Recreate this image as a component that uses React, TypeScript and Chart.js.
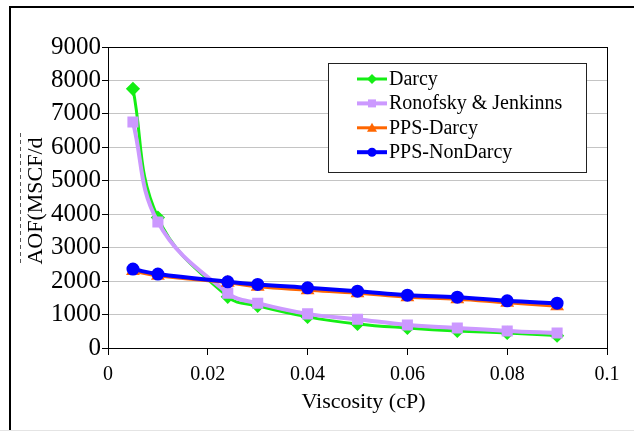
import React, { useEffect, useRef } from "react";
import { Chart, registerables } from "chart.js";

Chart.register(...registerables);

const viscosity = [0.005, 0.01, 0.024, 0.03, 0.04, 0.05, 0.06, 0.07, 0.08, 0.09];
const darcy = [7750, 3900, 1530, 1260, 930, 720, 600, 510, 450, 370];
const ronofsky = [6760, 3770, 1640, 1340, 1020, 860, 690, 600, 510, 450];
const ppsDarcy = [2300, 2160, 1950, 1830, 1730, 1640, 1520, 1460, 1350, 1250];
const ppsNonDarcy = [2360, 2210, 1980, 1900, 1800, 1700, 1580, 1520, 1410, 1340];
const seriesNames = ["Darcy", "Ronofsky & Jenkinns", "PPS-Darcy", "PPS-NonDarcy"];
const xTitle = "Viscosity (cP)";
const yTitle = "AOF(MSCF/d";

const FONT = "'Liberation Serif', 'DejaVu Serif', serif";
Chart.defaults.font.family = FONT;

function drawMarker(ctx: CanvasRenderingContext2D, style: string, x: number, y: number, r: number, color: string) {
  ctx.save();
  ctx.fillStyle = color;
  ctx.beginPath();
  if (style === "rectRot") {
    ctx.moveTo(x, y - r);
    ctx.lineTo(x + r, y);
    ctx.lineTo(x, y + r);
    ctx.lineTo(x - r, y);
    ctx.closePath();
  } else if (style === "rect") {
    ctx.rect(x - r * 0.8, y - r * 0.8, 1.6 * r, 1.6 * r);
  } else if (style === "triangle") {
    ctx.moveTo(x, y - r);
    ctx.lineTo(x + r, y + r * 0.8);
    ctx.lineTo(x - r, y + r * 0.8);
    ctx.closePath();
  } else {
    ctx.arc(x, y, r, 0, Math.PI * 2);
  }
  ctx.fill();
  ctx.restore();
}

const decorPlugin = {
  id: "decor",
  beforeDraw(chart: any) {
    const ctx = chart.ctx as CanvasRenderingContext2D;
    ctx.save();
    ctx.fillStyle = "#fff";
    ctx.fillRect(0, 0, chart.width, chart.height);
    ctx.strokeStyle = "#000";
    ctx.lineWidth = 2;
    ctx.beginPath();
    ctx.moveTo(10, 431);
    ctx.lineTo(10, 7);
    ctx.lineTo(634, 7);
    ctx.stroke();
    ctx.strokeStyle = "#e4e4e4";
    ctx.lineWidth = 1;
    ctx.beginPath();
    ctx.moveTo(0, 430.5);
    ctx.lineTo(634, 430.5);
    ctx.stroke();
    ctx.strokeStyle = "#555";
    ctx.setLineDash([4, 3]);
    ctx.beginPath();
    ctx.moveTo(20.5, 133);
    ctx.lineTo(20.5, 265);
    ctx.stroke();
    ctx.setLineDash([]);
    ctx.restore();
  },
  afterDraw(chart: any) {
    const ctx = chart.ctx as CanvasRenderingContext2D;
    const a = chart.chartArea;
    ctx.save();
    ctx.strokeStyle = "#000";
    ctx.lineWidth = 1;
    ctx.strokeRect(Math.round(a.left) + 0.5, Math.round(a.top) + 0.5, Math.round(a.right - a.left), Math.round(a.bottom - a.top));
    ctx.fillStyle = "#000";
    ctx.font = `22px ${FONT}`;
    ctx.textAlign = "center";
    ctx.textBaseline = "middle";
    ctx.fillText(xTitle, (a.left + a.right) / 2 + 6, 402);
    ctx.save();
    ctx.translate(36, 201);
    ctx.rotate(-Math.PI / 2);
    ctx.fillText(yTitle, 0, 0);
    ctx.restore();
    const bx = 328.5, by = 63.5, bw = 258, bh = 109;
    ctx.fillStyle = "#fff";
    ctx.fillRect(bx, by, bw, bh);
    ctx.strokeStyle = "#222";
    ctx.lineWidth = 1;
    ctx.strokeRect(bx, by, bw, bh);
    ctx.font = `20px ${FONT}`;
    ctx.textAlign = "left";
    ctx.textBaseline = "alphabetic";
    chart.data.datasets.forEach((ds: any, i: number) => {
      const base = 85 + i * 24.4;
      const ly = base - 6;
      ctx.strokeStyle = ds.borderColor;
      ctx.lineWidth = ds.borderWidth;
      ctx.beginPath();
      ctx.moveTo(357, ly);
      ctx.lineTo(387, ly);
      ctx.stroke();
      drawMarker(ctx, ds.pointStyle, 372, ly, ds.pointRadius, ds.pointBackgroundColor);
      ctx.fillStyle = "#000";
      ctx.fillText(ds.label, 389, base);
    });
    ctx.restore();
  },
};

export default function App() {
  const ref = useRef<HTMLCanvasElement | null>(null);
  useEffect(() => {
    if (!ref.current) return;
    const mk = (vals: number[]) => viscosity.map((x, i) => ({ x, y: vals[i] }));
    const mkDs = (i: number, vals: number[], color: string, width: number, style: string, r: number, order: number) => ({
      label: seriesNames[i],
      data: mk(vals),
      borderColor: color,
      backgroundColor: color,
      pointBackgroundColor: color,
      pointBorderColor: color,
      borderWidth: width,
      pointStyle: style,
      pointRadius: r,
      tension: 0.4,
      order,
    });
    const chart = new Chart(ref.current, {
      type: "line",
      data: {
        datasets: [
          mkDs(0, darcy, "#14ee14", 3, "rectRot", 5, 4),
          mkDs(1, ronofsky, "#cc99ff", 4, "rect", 5, 3),
          mkDs(2, ppsDarcy, "#ff6600", 3, "triangle", 5, 2),
          mkDs(3, ppsNonDarcy, "#0000ff", 4, "circle", 4.5, 1),
        ] as any,
      },
      options: {
        animation: false,
        responsive: false,
        maintainAspectRatio: false,
        layout: { padding: { top: 47, right: 27, left: 0, bottom: 0 } },
        plugins: { legend: { display: false }, tooltip: { enabled: false } },
        scales: {
          x: {
            type: "linear",
            min: 0,
            max: 0.1,
            afterFit: (s: any) => { s.height = 85; },
            ticks: {
              stepSize: 0.02,
              color: "#000",
              font: { family: FONT, size: 20 },
              padding: 8,
              maxRotation: 0,
              callback: (v: any) => String(Number(Number(v).toFixed(3))),
            },
            grid: { color: "rgba(0,0,0,0)", tickColor: "#000", tickLength: 7, drawOnChartArea: false },
            border: { color: "#000", width: 1 },
          },
          y: {
            min: 0,
            max: 9000,
            afterFit: (s: any) => { s.width = 108; },
            ticks: {
              stepSize: 1000,
              color: "#000",
              font: { family: FONT, size: 25 },
              padding: 1,
              callback: (v: any) => String(v),
            },
            grid: { color: "#c4c4c4", tickColor: "#000", tickLength: 6 },
            border: { color: "#000", width: 1 },
          },
        },
      },
      plugins: [decorPlugin],
    });
    return () => chart.destroy();
  }, []);
  return (
    <div style={{ position: "absolute", left: 0, top: 0, width: 634, height: 433 }}>
      <canvas ref={ref} width={634} height={433} style={{ width: 634, height: 433 }} />
    </div>
  );
}
